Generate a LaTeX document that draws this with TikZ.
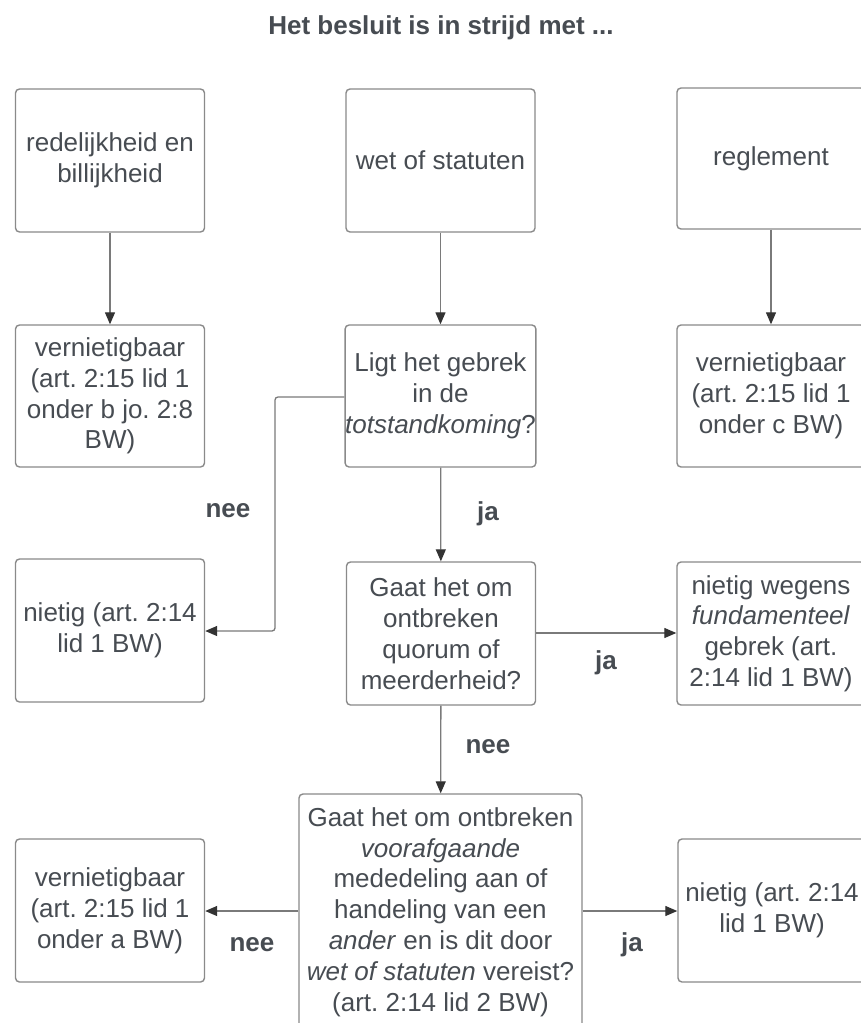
\documentclass[tikz,border=0pt]{standalone}
\usepackage{fontspec}
\setmainfont{Liberation Sans}
\usetikzlibrary{arrows.meta}
\definecolor{txtgray}{HTML}{474C52}
\definecolor{boxgray}{HTML}{8A8A8A}
\definecolor{linegray}{HTML}{7A7A7A}
\definecolor{headgray}{HTML}{333333}
\tikzset{
  fbox/.style={draw=boxgray, line width=1.4pt, rounded corners=4pt, fill=white,
    minimum width=189pt, minimum height=143pt, align=center, text=txtgray,
    font=\fontsize{26}{30.8}\selectfont, inner sep=0pt},
  lbl/.style={text=txtgray, font=\fontsize{26}{30}\selectfont\bfseries, inner sep=0pt},
  conn/.style={draw=linegray, line width=1.3pt, rounded corners=3pt,
    -{Triangle[length=12pt,width=10pt,color=headgray]}}
}
\frenchspacing
\begin{document}
\begin{tikzpicture}[x=1pt,y=-1pt]
\useasboundingbox (0,0) rectangle (861,1023);
\clip (0,0) rectangle (861,1023);
\fill[white] (0,0) rectangle (861,1023);

\node[lbl] (title) at (441,28) {Het besluit is in strijd met ...};

\node[fbox] (red) at (110,160.5) {redelijkheid en\\billijkheid};
\node[fbox] (wet) at (440.5,160.5) {wet of statuten};
\node[fbox, minimum height=141pt, minimum width=188pt] (reg) at (771,158.5) {reglement};

\node[fbox, minimum height=142pt] (vb) at (110,396) {vernietigbaar\\(art. 2:15 lid 1\\onder b jo. 2:8\\BW)};
\node[fbox, minimum height=142pt] (ligt) at (440.5,396) {Ligt het gebrek\\in de\\\textit{totstandkoming}?};
\node[fbox, minimum height=142pt, minimum width=188pt] (vc) at (771,396) {vernietigbaar\\(art. 2:15 lid 1\\onder c BW)};

\node[fbox] (nietig1) at (110,630.5) {nietig (art. 2:14\\lid 1 BW)};
\node[fbox] (quorum) at (441,633.5) {Gaat het om\\ontbreken\\quorum of\\meerderheid?};
\node[fbox, minimum width=188pt] (fund) at (771,633.5) {nietig wegens\\\textit{fundamenteel}\\gebrek (art.\\2:14 lid 1 BW)};

\node[fbox] (va) at (110,910.5) {vernietigbaar\\(art. 2:15 lid 1\\onder a BW)};
\node[fbox, minimum width=283pt, minimum height=236pt] (bot) at (440.5,912) {Gaat het om ontbreken\\\textit{voorafgaande}\\mededeling aan of\\handeling van een\\\textit{ander} en is dit door\\\textit{wet of statuten} vereist?\\(art. 2:14 lid 2 BW)};
\node[fbox, minimum width=188pt] (nietig2) at (772,910.5) {nietig (art. 2:14\\lid 1 BW)};

\coordinate (elb) at (275,397);

\draw[conn] (red) -- (vb);
\draw[conn] (wet) -- (ligt);
\draw[conn] (reg) -- (vc);
\draw[conn] (ligt.west |- elb) -| (275,631) -- (nietig1.east |- 0,631);
\draw[conn] (ligt) -- (quorum);
\draw[conn] (quorum.east |- 0,633) -- (fund.west |- 0,633);
\draw[conn] (quorum) -- (bot);
\draw[conn] (bot.west |- 0,911) -- (va.east |- 0,911);
\draw[conn] (bot.east |- 0,911) -- (nietig2.west |- 0,911);

\node[lbl] (nee1) at (228,511) {nee};
\node[lbl] (ja1) at (488,514) {ja};
\node[lbl] (ja2) at (606,663) {ja};
\node[lbl] (nee2) at (488,747) {nee};
\node[lbl] (nee3) at (252,945) {nee};
\node[lbl] (ja3) at (632,945) {ja};
\end{tikzpicture}
\end{document}
